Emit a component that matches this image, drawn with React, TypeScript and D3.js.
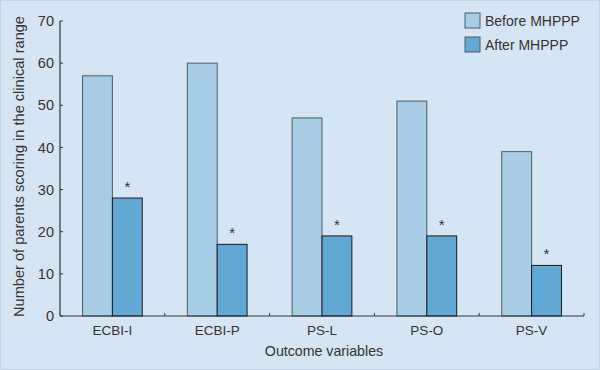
import React from 'react';
import * as d3 from 'd3';

const categories = ['ECBI-I', 'ECBI-P', 'PS-L', 'PS-O', 'PS-V'];
const seriesNames = ['Before MHPPP', 'After MHPPP'];
const beforeValues = [57, 60, 47, 51, 39];
const afterValues = [28, 17, 19, 19, 12];
const yTicks = [0, 10, 20, 30, 40, 50, 60, 70];

const W = 600;
const H = 370;
const margin = { top: 21, right: 16, bottom: 54, left: 60 };
const font = 'Liberation Sans, Arial, sans-serif';
const ink = '#333';
const colors = ['#a7cde7', '#62a8d4'];
const strokes = ['#4d5b66', '#1a1a1a'];

export default function App() {
    const innerW = W - margin.left - margin.right;
    const innerH = H - margin.top - margin.bottom;

    const x = d3.scaleBand<string>().domain(categories).range([0, innerW]).paddingInner(0).paddingOuter(0);
    const barW = x.bandwidth() * 0.285;
    const y = d3.scaleLinear().domain([0, 70]).range([innerH, 0]);

    const rows = categories.map((c, i) => ({ c, vals: [beforeValues[i], afterValues[i]] }));

    return (
        <svg width={W} height={H} style={{ position: 'absolute', left: 0, top: 0 }}>
            <rect x={0.5} y={0.5} width={W - 1} height={H - 1} fill="#d6e5f3" stroke="#c3d4e4" />
            <g transform={`translate(${margin.left},${margin.top})`} fontFamily={font}>
                {rows.map(r => {
                    const cx = (x(r.c) as number) + x.bandwidth() / 2;
                    return (
                        <g key={r.c}>
                            {r.vals.map((v, k) => (
                                <rect key={k}
                                    x={cx - barW + k * barW}
                                    y={y(v)}
                                    width={barW}
                                    height={innerH - y(v)}
                                    fill={colors[k]}
                                    stroke={strokes[k]}
                                    strokeWidth={1} />
                            ))}
                            <text x={cx + barW / 2} y={y(r.vals[1]) - 6} textAnchor="middle"
                                fontSize={15} fill={ink}>*</text>
                            <text x={cx} y={innerH + 19} textAnchor="middle" fontSize={13.5} fill={ink}>{r.c}</text>
                        </g>
                    );
                })}
                {/* axes */}
                <line x1={0} x2={0} y1={0} y2={innerH} stroke={ink} strokeWidth={1.2} />
                <line x1={0} x2={innerW} y1={innerH} y2={innerH} stroke={ink} strokeWidth={1.2} />
                {yTicks.map(t => (
                    <g key={t} transform={`translate(0,${y(t)})`}>
                        <line x1={0} x2={3} stroke={ink} />
                        <text x={-6} dy="0.35em" textAnchor="end" fontSize={14.5} fill={ink}>{t}</text>
                    </g>
                ))}
                {categories.map(c => {
                    const xx = (x(c) as number) + x.bandwidth();
                    return <line key={c} x1={xx} x2={xx} y1={innerH} y2={innerH - 3} stroke={ink} />;
                })}
                <text transform={`translate(${-36},${innerH / 2 - 2}) rotate(-90)`} textAnchor="middle"
                    fontSize={14.6} fill={ink}>Number of parents scoring in the clinical range</text>
                <text x={innerW / 2 + 2} y={innerH + 40} textAnchor="middle" fontSize={14.2} fill={ink}>Outcome variables</text>
                {/* legend */}
                {seriesNames.map((s, k) => (
                    <g key={s} transform={`translate(${405},${-8 + k * 24})`}>
                        <rect x={0} y={0} width={15} height={15} fill={colors[k]} stroke={strokes[0]} />
                        <text x={20} y={12.5} fontSize={14} fill={ink}>{s}</text>
                    </g>
                ))}
            </g>
        </svg>
    );
}
